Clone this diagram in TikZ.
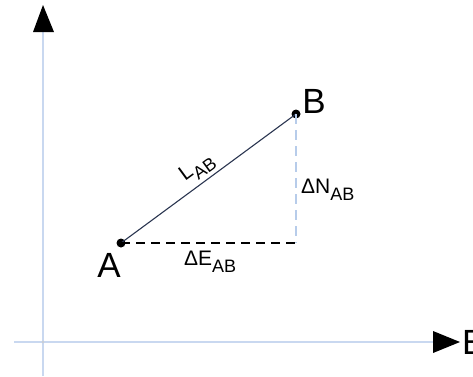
\documentclass[tikz,border=0pt]{standalone}
\usepackage{fontspec}
\setmainfont{Liberation Sans}
\usetikzlibrary{arrows.meta}
\definecolor{axisblue}{HTML}{C9D8F0}
\definecolor{dashblue}{HTML}{B7CCEA}
\definecolor{lineblue}{HTML}{2A3550}
\tikzset{
  axis/.style={draw=axisblue, line width=1.6pt},
  big/.style={font=\fontsize{35}{35}\selectfont, inner sep=0pt},
  small/.style={font=\fontsize{21}{21}\selectfont, inner sep=0pt},
  dotpt/.style={circle, fill=black, minimum size=9pt, inner sep=0pt},
}
\newcommand{\subAB}{\raisebox{-7pt}{\fontsize{18}{18}\selectfont AB}}
\begin{document}
\begin{tikzpicture}[x=1pt,y=-1pt]
\useasboundingbox (0,0) rectangle (473,376);
% axes
\coordinate (ybot) at (43,376);
\coordinate (ytop) at (43,5);
\coordinate (xleft) at (14,342);
\coordinate (xright) at (460,342);
\draw[axis] (ybot) -- (43,32);
\draw[axis] (xleft) -- (433,342);
\fill[black] (33,32) -- (ytop) -- (54,32) -- cycle;
\fill[black] (433,331) -- (xright) -- (433,353) -- cycle;
\fill[axisblue!60!black!40] (43,342) circle (1.3pt);
\node[big, anchor=west] (E) at (462,342) {E};
% points
\node[dotpt] (A) at (121,243) {};
\node[dotpt] (B) at (296,114) {};
\coordinate (C) at (296,243);
\draw[lineblue, line width=1.1pt] (A.center) -- (B.center);
\draw[black, line width=1.3pt, dash pattern=on 9pt off 6pt] (A.center) -- (C);
\draw[dashblue, line width=1.2pt, dash pattern=on 10pt off 6pt] (B.center) -- (C);
% labels
\node[big] (Al) at (109,265) {A};
\node[big] (Bl) at (314,101) {B};
\node[small, anchor=base west] (dE) at (184,265) {ΔE\subAB};
\node[small, anchor=base west] (dN) at (301,193) {ΔN\subAB};
\node[small, anchor=base west, rotate=36.2] (L) at (185,182) {L\subAB};
\end{tikzpicture}
\end{document}
